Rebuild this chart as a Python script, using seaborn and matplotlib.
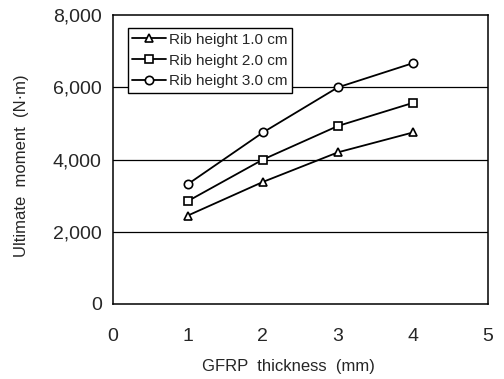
import pandas as pd
import matplotlib.pyplot as plt
import seaborn as sns

# ── DATA ──────────────────────────────────────────────
thickness = [1, 2, 3, 4]
rib_1cm = [2450, 3380, 4200, 4750]
rib_2cm = [2850, 4000, 4930, 5570]
rib_3cm = [3320, 4750, 6000, 6670]
series_names = ['Rib height 1.0 cm', 'Rib height 2.0 cm', 'Rib height 3.0 cm']

df = pd.DataFrame({
    'thickness': thickness * 3,
    'moment': rib_1cm + rib_2cm + rib_3cm,
    'series': [n for n in series_names for _ in thickness],
})

# ── PLOT ──────────────────────────────────────────────
sns.set_style('white')
plt.rcParams['font.family'] = ['Liberation Sans', 'DejaVu Sans']

fig = plt.figure(figsize=(5.04, 3.79), dpi=100)
ax = fig.add_axes([0.224, 0.198, 0.744, 0.762])

for y in [2000, 4000, 6000]:
    ax.axhline(y, color='black', lw=0.9, zorder=0)

sns.lineplot(data=df, x='thickness', y='moment', hue='series', style='series',
             palette=['black'] * 3, markers=['^', 's', 'o'], dashes=False,
             markersize=6, markerfacecolor='white', markeredgecolor='black',
             markeredgewidth=1.2, lw=1.3, ax=ax)

ax.set_xlim(0, 5)
ax.set_ylim(0, 8000)
ax.set_xticks(range(6))
ax.set_yticks(range(0, 8001, 2000))
ax.set_yticklabels([f'{v:,}' for v in range(0, 8001, 2000)])
ax.tick_params(axis='x', direction='in', length=4, width=1, color='black',
               labelsize=14, pad=17)
ax.tick_params(axis='y', length=0, labelsize=14, pad=8)
for s in ax.spines.values():
    s.set_color('black')
    s.set_linewidth(1.1)

ax.set_xlabel('GFRP  thickness  (mm)', fontsize=12)
ax.set_ylabel('Ultimate  moment  (N·m)', fontsize=12)
ax.xaxis.set_label_coords(0.467, -0.19)
ax.yaxis.set_label_coords(-0.225, 0.48)

leg = ax.legend(title=None, loc='upper left', bbox_to_anchor=(0.04, 0.955),
                fontsize=11, frameon=True, fancybox=False, framealpha=1,
                edgecolor='black', borderaxespad=0, handlelength=2.2,
                handletextpad=0.2, labelspacing=0.45, borderpad=0.3)
leg.get_frame().set_linewidth(1.0)

plt.savefig('out.png', dpi=100)
